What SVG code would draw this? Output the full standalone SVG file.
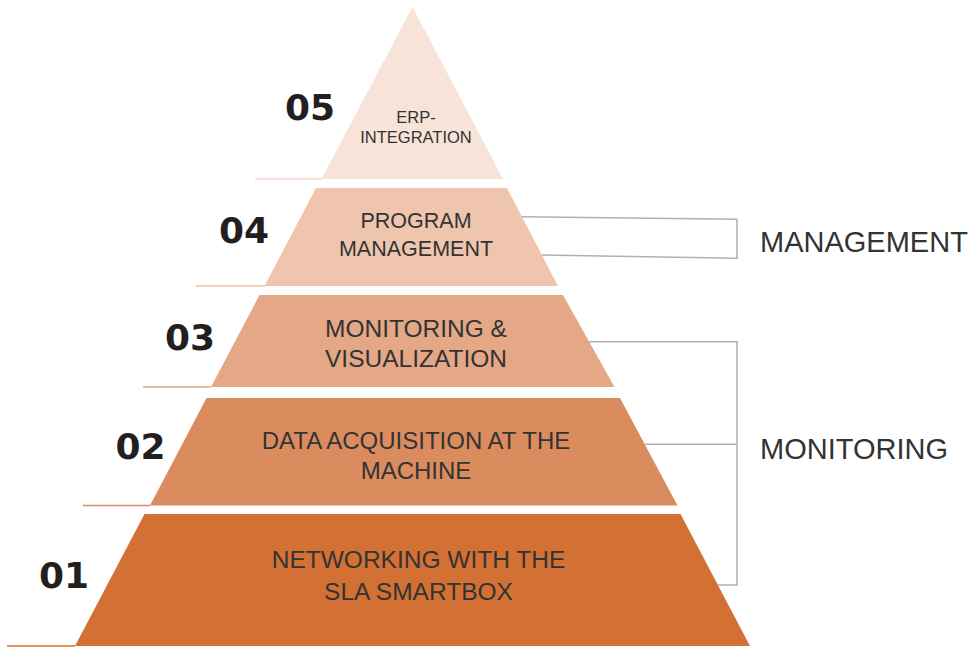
<svg xmlns="http://www.w3.org/2000/svg" width="976" height="647" viewBox="0 0 976 647">
<style>
.lbl{font-family:"Liberation Sans",Arial,sans-serif;fill:#333;text-anchor:middle}
.num{font-family:"DejaVu Sans",sans-serif;font-weight:bold;font-size:36px;fill:#231f20;text-anchor:end}
.side{font-family:"Liberation Sans",Arial,sans-serif;font-size:29px;fill:#333}
.br{fill:none;stroke:#b0b0b0;stroke-width:1.5}
.ul{stroke-width:1.5}
</style>
<rect width="976" height="647" fill="#fff"/>
<g id="layer5">
<line class="ul" x1="255" y1="179" x2="322" y2="179" stroke="#f3d8c8"/>
<polygon points="412.5,7 503,179 321.5,179" fill="#f7e3d7"/>
<text class="lbl" font-size="16.5" x="416" y="123">ERP-</text>
<text class="lbl" font-size="16.5" x="416" y="143">INTEGRATION</text>
<text class="num" x="335" y="120">05</text>
</g>
<g id="layer4">
<line class="ul" x1="196" y1="286" x2="265" y2="286" stroke="#ecc2a8"/>
<polygon points="316,188 507,188 558,286 264.5,286" fill="#efc6ad"/>
<text class="lbl" font-size="21.5" x="416" y="227.5">PROGRAM</text>
<text class="lbl" font-size="21.5" x="416" y="256">MANAGEMENT</text>
<text class="num" x="269" y="243">04</text>
</g>
<g id="layer3">
<line class="ul" x1="143" y1="387" x2="211" y2="387" stroke="#e5a886"/>
<polygon points="259.5,295 563,295 614.5,387 211,387" fill="#e5a886"/>
<text class="lbl" font-size="24.5" x="416" y="336.5">MONITORING &amp;</text>
<text class="lbl" font-size="24.5" x="416" y="367">VISUALIZATION</text>
<text class="num" x="215" y="349.5">03</text>
</g>
<g id="layer2">
<line class="ul" x1="83" y1="505.5" x2="150" y2="505.5" stroke="#db8c5e"/>
<polygon points="206.5,398 620,398 677.5,505.5 150,505.5" fill="#db8c5e"/>
<text class="lbl" font-size="24" x="416" y="448.5">DATA ACQUISITION AT THE</text>
<text class="lbl" font-size="24" x="416" y="478.5">MACHINE</text>
<text class="num" x="165.5" y="458.5">02</text>
</g>
<g id="layer1">
<line class="ul" x1="7" y1="646" x2="75" y2="646" stroke="#d37034"/>
<polygon points="144.5,514 680.5,514 750,646 75,646" fill="#d37034"/>
<text class="lbl" font-size="24.5" x="418.5" y="567.5">NETWORKING WITH THE</text>
<text class="lbl" font-size="24.5" x="418.5" y="599.5">SLA SMARTBOX</text>
<text class="num" x="89" y="587.5">01</text>
</g>
<g id="connectors">
<polyline class="br" points="522,216.7 737,219.3 737,258.3 542,255"/>
<polyline class="br" points="589,341.7 737,341.7 737,585 717.5,585"/>
<line class="br" x1="644.5" y1="444.3" x2="737" y2="444.3"/>
</g>
<g id="label-management"><text class="side" x="760" y="252">MANAGEMENT</text></g>
<g id="label-monitoring"><text class="side" x="760" y="458.5">MONITORING</text></g>
</svg>
